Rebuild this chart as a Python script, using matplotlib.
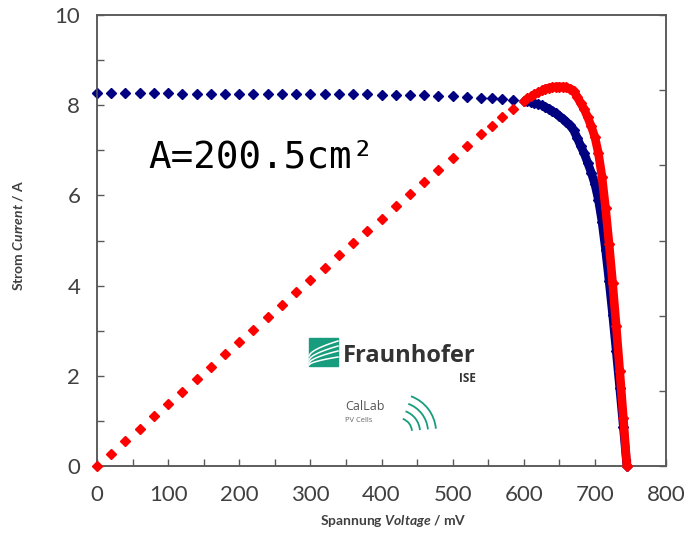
import numpy as np
import matplotlib
matplotlib.use('Agg')
import matplotlib.pyplot as plt
from matplotlib.ticker import MultipleLocator
from matplotlib.patches import Rectangle, Arc

plt.rcParams['font.family'] = ['Lato', 'DejaVu Sans']
plt.rcParams['mathtext.fontset'] = 'custom'
plt.rcParams['mathtext.it'] = 'Lato:italic:bold'
plt.rcParams['mathtext.rm'] = 'Lato:bold'

voltage_mv = [0, 20, 40, 60, 80, 100, 120, 140, 160, 180, 200, 220, 240, 260, 280,
              300, 320, 340, 360, 380, 400, 420, 440, 460, 480, 500, 520, 540,
              555, 570, 585, 600, 605, 610, 615, 620, 625, 630, 635, 640, 645,
              650, 655, 660, 665, 670, 675, 680, 685, 690, 695, 700, 705, 710,
              715, 720, 725, 730, 735, 740, 745]
current_a = [8.26, 8.26, 8.26, 8.26, 8.26, 8.26, 8.25, 8.25, 8.25, 8.25, 8.25,
             8.25, 8.25, 8.25, 8.25, 8.24, 8.24, 8.24, 8.24, 8.24, 8.23, 8.23,
             8.22, 8.22, 8.21, 8.20, 8.19, 8.17,
             8.16, 8.14, 8.12, 8.10, 8.09, 8.07, 8.05, 8.03, 8.00, 7.96, 7.92,
             7.87, 7.82, 7.76, 7.70, 7.63, 7.55, 7.45, 7.28, 7.10, 6.93, 6.72,
             6.50, 6.25, 5.90, 5.42, 4.80, 4.10, 3.35, 2.55, 1.72, 0.87, 0.00]
power_w = [0.000, 0.165, 0.330, 0.496, 0.661, 0.826, 0.990, 1.155, 1.320, 1.485,
           1.650, 1.815, 1.980, 2.145, 2.310, 2.472, 2.637, 2.802, 2.966, 3.131,
           3.292, 3.457, 3.617, 3.781, 3.941, 4.100, 4.259, 4.412,
           4.529, 4.640, 4.750, 4.860, 4.894, 4.923, 4.951, 4.979, 5.000, 5.015,
           5.029, 5.037, 5.044, 5.044, 5.044, 5.036, 5.021, 4.992, 4.914, 4.828,
           4.747, 4.637, 4.518, 4.375, 4.160, 3.848, 3.432, 2.952, 2.429, 1.862,
           1.264, 0.644, 0.000]

v = np.array(voltage_mv)
i = np.array(current_a)
p = np.array(power_w)
dicht = v >= 630  # dort liegen die Messpunkte so eng, dass sie ein Band bilden

fig = plt.figure(figsize=(6.88, 5.33), dpi=100)
ax = fig.add_axes([97/688, 1-466/533, 569/688, 451/533])

grau = '#595959'
ax.plot(v[dicht], i[dicht], color='#000080', lw=6.2, solid_capstyle='round', zorder=2)
ax.plot(v, i, 'D', color='#000080', ms=5, zorder=3, clip_on=False)
ax.set_xlim(0, 800)
ax.set_ylim(0, 10)
ax.xaxis.set_major_locator(MultipleLocator(100))
ax.xaxis.set_minor_locator(MultipleLocator(50))
ax.yaxis.set_major_locator(MultipleLocator(2))
ax.yaxis.set_minor_locator(MultipleLocator(1))
ax.tick_params(which='both', direction='in', length=5, width=1, color=grau,
               labelsize=16, labelcolor='#404040')
ax.tick_params(axis='x', pad=14)
ax.tick_params(axis='y', pad=12)
for s in ax.spines.values():
    s.set_color(grau)
    s.set_linewidth(1.1)

# Leistung auf zweiter Achse (0-6 W), Beschriftung abgeschnitten
ax2 = ax.twinx()
ax2.plot(v[dicht], p[dicht], color='#ff0000', lw=6.2, solid_capstyle='round', zorder=2)
ax2.plot(v, p, 'D', color='#ff0000', ms=5, zorder=3, clip_on=False)
ax2.set_ylim(0, 6)
ax2.yaxis.set_major_locator(MultipleLocator(1))
ax2.tick_params(direction='in', length=5, width=1, color=grau, labelright=False)
for s in ax2.spines.values():
    s.set_color(grau)
    s.set_linewidth(1.1)

fig.text(393/688, 1-521/533, r"Spannung $Voltage$ / mV", ha='center', va='center',
         fontsize=10, fontweight='bold', color='#404040')
fig.text(18/688, 1-235/533, r"Strom $Current$ / A", ha='center', va='center',
         rotation=90, fontsize=10, fontweight='bold', color='#404040')

ax.text(72, 6.83, "A=200.5cm²", family='DejaVu Sans Mono', fontsize=27,
        ha='left', va='center', color='black')

# Logo Fraunhofer ISE / CalLab
lg = fig.add_axes([0, 0, 1, 1])
lg.set_xlim(0, 688)
lg.set_ylim(533, 0)
lg.axis('off')
gruen = '#179c7d'
lg.add_patch(Rectangle((309, 338), 29, 28, color=gruen))
for y0, y1 in [(356, 341), (360, 346), (363, 351), (365, 357)]:
    xs = np.linspace(309, 338, 20)
    t = (xs - 309) / 29
    ys = y0 + (y1 - y0) * t**0.6
    lg.plot(xs, ys, color='white', lw=1.1)
lg.text(343, 356, "Fraunhofer", fontsize=17, fontweight='bold', color='#333333',
        family='Open Sans', ha='left', va='center')
lg.text(476, 379, "ISE", fontsize=8.5, fontweight='bold', color='#333333',
        family='Open Sans', ha='right', va='center')
lg.text(345, 407, "CalLab", fontsize=9, color='#555555', family='Open Sans',
        ha='left', va='center')
lg.text(345, 421, "PV Cells", fontsize=5.5, color='#666666', family='Open Sans',
        ha='left', va='center')
for r in [14, 22, 30, 38]:
    lg.add_patch(Arc((398, 432), 2*r, 2*r, theta1=290, theta2=355,
                     color=gruen, lw=1.3, transform=lg.transData))

fig.savefig('out.png', dpi=100)
